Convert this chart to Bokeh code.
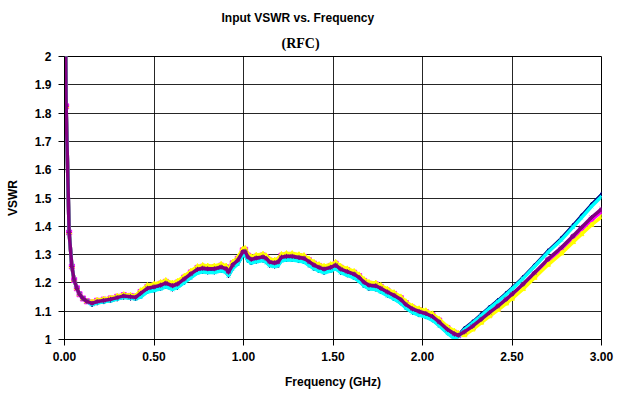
from bokeh.plotting import figure
from bokeh.models import FixedTicker, Range1d, Title
from bokeh.embed import file_html
from bokeh.resources import INLINE

freq = [0.000, 0.009, 0.026, 0.041, 0.054, 0.069, 0.084, 0.103, 0.125, 0.154,
        0.182, 0.219, 0.257, 0.294, 0.331, 0.369, 0.397, 0.425, 0.463, 0.500,
        0.537, 0.566, 0.603, 0.631, 0.669, 0.706, 0.743, 0.772, 0.800, 0.837,
        0.875, 0.903, 0.916, 0.940, 0.968, 0.996, 1.009, 1.024, 1.043, 1.071,
        1.109, 1.127, 1.146, 1.174, 1.193, 1.212, 1.240, 1.272, 1.310, 1.338,
        1.366, 1.394, 1.422, 1.450, 1.487, 1.515, 1.543, 1.580, 1.618, 1.646,
        1.674, 1.701, 1.739, 1.767, 1.804, 1.841, 1.879, 1.907, 1.944, 1.981,
        2.019, 2.056, 2.093, 2.140, 2.178, 2.200, 2.234, 2.280, 2.327, 2.374,
        2.421, 2.467, 2.500, 2.561, 2.626, 2.701, 2.776, 2.841, 2.888, 2.944,
        3.000]

vswr_navy = [2.5, 1.824, 1.378, 1.258, 1.210, 1.181, 1.160, 1.145, 1.135, 1.124,
             1.130, 1.134, 1.138, 1.144, 1.150, 1.147, 1.145, 1.152, 1.170, 1.175,
             1.181, 1.188, 1.179, 1.185, 1.203, 1.221, 1.237, 1.241, 1.239, 1.239,
             1.245, 1.239, 1.227, 1.253, 1.269, 1.299, 1.301, 1.281, 1.272, 1.277,
             1.281, 1.275, 1.263, 1.260, 1.263, 1.280, 1.283, 1.283, 1.279, 1.276,
             1.264, 1.252, 1.244, 1.238, 1.244, 1.252, 1.238, 1.229, 1.220, 1.208,
             1.191, 1.181, 1.179, 1.170, 1.157, 1.145, 1.130, 1.113, 1.097, 1.088,
             1.081, 1.070, 1.051, 1.024, 1.006, 1.014, 1.038, 1.061, 1.087, 1.113,
             1.137, 1.162, 1.181, 1.218, 1.261, 1.312, 1.357, 1.402, 1.436, 1.476,
             1.512]

vswr_magenta = [2.5, 1.824, 1.378, 1.258, 1.210, 1.181, 1.160, 1.145, 1.135, 1.131,
                1.137, 1.141, 1.145, 1.151, 1.157, 1.154, 1.152, 1.168, 1.186, 1.191,
                1.197, 1.204, 1.195, 1.201, 1.219, 1.237, 1.253, 1.257, 1.255, 1.255,
                1.261, 1.255, 1.243, 1.269, 1.285, 1.315, 1.317, 1.297, 1.288, 1.293,
                1.297, 1.291, 1.279, 1.276, 1.279, 1.296, 1.299, 1.299, 1.295, 1.292,
                1.280, 1.268, 1.260, 1.254, 1.260, 1.268, 1.254, 1.245, 1.236, 1.224,
                1.207, 1.197, 1.195, 1.186, 1.173, 1.161, 1.146, 1.129, 1.113, 1.104,
                1.097, 1.086, 1.067, 1.040, 1.024, 1.016, 1.022, 1.042, 1.066, 1.089,
                1.112, 1.136, 1.154, 1.188, 1.229, 1.277, 1.317, 1.358, 1.388, 1.422,
                1.452]

vswr_yellow = [2.5, 1.824, 1.378, 1.258, 1.210, 1.181, 1.160, 1.145, 1.135, 1.133,
               1.139, 1.143, 1.147, 1.153, 1.159, 1.156, 1.154, 1.173, 1.191, 1.196,
               1.202, 1.209, 1.200, 1.206, 1.224, 1.242, 1.258, 1.262, 1.260, 1.260,
               1.266, 1.260, 1.248, 1.274, 1.290, 1.320, 1.322, 1.302, 1.293, 1.298,
               1.302, 1.296, 1.284, 1.281, 1.284, 1.301, 1.304, 1.304, 1.300, 1.297,
               1.285, 1.273, 1.265, 1.259, 1.265, 1.273, 1.259, 1.250, 1.241, 1.229,
               1.212, 1.202, 1.200, 1.191, 1.178, 1.166, 1.151, 1.134, 1.118, 1.109,
               1.102, 1.091, 1.072, 1.045, 1.030, 1.022, 1.015, 1.035, 1.059, 1.082,
               1.104, 1.127, 1.144, 1.178, 1.218, 1.264, 1.304, 1.344, 1.372, 1.405,
               1.433]

vswr_cyan = [2.5, 1.824, 1.378, 1.258, 1.210, 1.181, 1.160, 1.145, 1.135, 1.123,
             1.129, 1.133, 1.137, 1.143, 1.149, 1.146, 1.144, 1.150, 1.168, 1.173,
             1.179, 1.186, 1.177, 1.183, 1.201, 1.219, 1.235, 1.239, 1.237, 1.237,
             1.243, 1.237, 1.225, 1.251, 1.267, 1.297, 1.299, 1.279, 1.270, 1.275,
             1.279, 1.273, 1.261, 1.258, 1.261, 1.278, 1.281, 1.281, 1.277, 1.274,
             1.262, 1.250, 1.242, 1.236, 1.242, 1.250, 1.236, 1.227, 1.218, 1.206,
             1.189, 1.179, 1.177, 1.168, 1.155, 1.143, 1.128, 1.111, 1.095, 1.086,
             1.079, 1.068, 1.049, 1.022, 1.003, 1.010, 1.035, 1.058, 1.084, 1.110,
             1.134, 1.159, 1.178, 1.215, 1.258, 1.308, 1.352, 1.397, 1.430, 1.470,
             1.505]

vswr_purple = [2.5, 1.824, 1.378, 1.258, 1.210, 1.181, 1.160, 1.145, 1.135, 1.128,
               1.134, 1.138, 1.142, 1.148, 1.154, 1.151, 1.149, 1.163, 1.181, 1.186,
               1.192, 1.199, 1.190, 1.196, 1.214, 1.232, 1.248, 1.252, 1.250, 1.250,
               1.256, 1.250, 1.238, 1.264, 1.280, 1.310, 1.312, 1.292, 1.283, 1.288,
               1.292, 1.286, 1.274, 1.271, 1.274, 1.291, 1.294, 1.294, 1.290, 1.287,
               1.275, 1.263, 1.255, 1.249, 1.255, 1.263, 1.249, 1.240, 1.231, 1.219,
               1.202, 1.192, 1.190, 1.181, 1.168, 1.156, 1.141, 1.124, 1.108, 1.099,
               1.092, 1.081, 1.062, 1.035, 1.020, 1.015, 1.027, 1.047, 1.071, 1.095,
               1.118, 1.142, 1.160, 1.195, 1.236, 1.284, 1.325, 1.366, 1.396, 1.431,
               1.461]

x_ticks = [0.0, 0.5, 1.0, 1.5, 2.0, 2.5, 3.0]
x_tick_labels = ["0.00", "0.50", "1.00", "1.50", "2.00", "2.50", "3.00"]
y_ticks = [1.0, 1.1, 1.2, 1.3, 1.4, 1.5, 1.6, 1.7, 1.8, 1.9, 2.0]
y_tick_labels = ["1", "1.1", "1.2", "1.3", "1.4", "1.5", "1.6", "1.7", "1.8", "1.9", "2"]

FONT = "Liberation Sans"

main_title = Title(text="Input VSWR vs. Frequency", align="left", offset=157,
                   text_font=FONT, text_font_style="bold", text_font_size="12px",
                   text_color="black", standoff=5)
sub_title = Title(text="(RFC)", align="left", offset=217,
                  text_font="Liberation Serif", text_font_style="bold",
                  text_font_size="14px", text_color="black", standoff=12)

p = figure(width=617, height=395, output_backend="svg", toolbar_location=None,
           x_range=Range1d(0, 3), y_range=Range1d(1, 2), title=main_title,
           min_border_left=64, min_border_right=16, min_border_top=56, min_border_bottom=56)
p.add_layout(sub_title, "above")
p.background_fill_color = "white"
p.border_fill_color = "white"
p.outline_line_color = "black"
p.outline_line_width = 1

# grid
p.xgrid.ticker = FixedTicker(ticks=x_ticks)
p.ygrid.ticker = FixedTicker(ticks=y_ticks)
for g in (p.xgrid, p.ygrid):
    g.grid_line_color = "black"
    g.grid_line_width = 1
    g.grid_line_alpha = 0.85

# axes
p.xaxis.ticker = FixedTicker(ticks=x_ticks)
p.yaxis.ticker = FixedTicker(ticks=y_ticks)
p.xaxis.major_label_overrides = {t: s for t, s in zip(x_ticks, x_tick_labels)}
p.yaxis.major_label_overrides = {t: s for t, s in zip(y_ticks, y_tick_labels)}
for ax in (p.xaxis, p.yaxis):
    ax.axis_line_color = "black"
    ax.major_tick_line_color = "black"
    ax.major_tick_out = 6
    ax.major_tick_in = 0
    ax.minor_tick_line_color = None
    ax.major_label_text_font = FONT
    ax.major_label_text_font_style = "bold"
    ax.major_label_text_font_size = "12px"
    ax.major_label_text_color = "black"
    ax.axis_label_text_font = FONT
    ax.axis_label_text_font_style = "bold"
    ax.axis_label_text_font_size = "12px"
    ax.axis_label_text_color = "black"
p.xaxis.axis_label = "Frequency (GHz)"
p.yaxis.axis_label = "VSWR"
p.xaxis.major_label_standoff = 6
p.yaxis.major_label_standoff = 7
p.xaxis.axis_label_standoff = 11
p.yaxis.axis_label_standoff = 12

series = [
    (vswr_navy, "#000080", "diamond"),
    (vswr_magenta, "#FF00FF", "square"),
    (vswr_yellow, "#FFFF00", "triangle"),
    (vswr_cyan, "#00FFFF", "x"),
    (vswr_purple, "#800080", "asterisk"),
]
for vals, col, mk in series:
    p.line(freq, vals, line_color=col, line_width=3.5)
    p.scatter(freq, vals, marker=mk, size=5, line_color=col, fill_color=col)

open("out.html", "w").write(file_html(p, INLINE))
